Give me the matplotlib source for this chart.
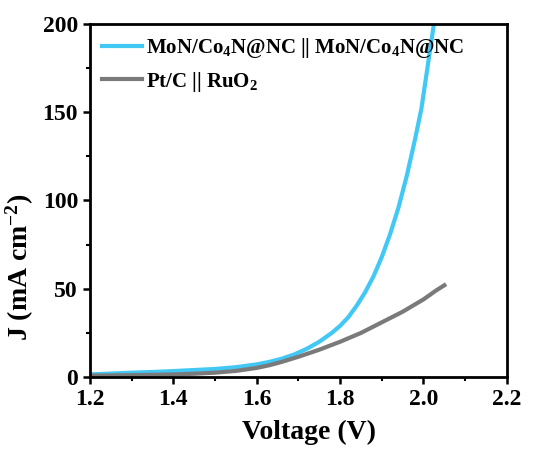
import matplotlib.pyplot as plt
from matplotlib.ticker import MultipleLocator

plt.rcParams['font.family'] = 'Liberation Serif'
plt.rcParams['font.weight'] = 'bold'
plt.rcParams['mathtext.fontset'] = 'custom'
plt.rcParams['mathtext.rm'] = 'Liberation Serif:bold'
plt.rcParams['mathtext.it'] = 'Liberation Serif:bold'
plt.rcParams['mathtext.bf'] = 'Liberation Serif:bold'

# MoN/Co4N@NC || MoN/Co4N@NC
v_mon = [1.20, 1.25, 1.30, 1.35, 1.40, 1.45, 1.50, 1.55, 1.60, 1.63, 1.66, 1.69,
         1.72, 1.75, 1.78, 1.80, 1.82, 1.84, 1.86, 1.88, 1.90, 1.92, 1.94, 1.96,
         1.98, 1.995, 2.01, 2.025]
j_mon = [1.5, 2.0, 2.5, 2.9, 3.4, 4.0, 4.6, 5.6, 7.2, 8.6, 10.4, 12.8,
         16.0, 20.0, 25.0, 29.0, 34.0, 40.5, 48.0, 57.0, 68.0, 81.0, 96.0, 114.0,
         135.0, 152.0, 176.0, 200.0]

# Pt/C || RuO2
v_pt = [1.20, 1.30, 1.40, 1.45, 1.50, 1.55, 1.60, 1.63, 1.66, 1.70, 1.75, 1.80,
        1.85, 1.90, 1.95, 2.00, 2.03, 2.05]
j_pt = [0.8, 1.1, 1.5, 1.9, 2.5, 3.5, 5.2, 6.7, 8.6, 11.5, 15.5, 20.0,
        25.0, 31.0, 37.0, 44.0, 49.0, 52.0]

fig = plt.figure(figsize=(5.51, 4.5), dpi=100)
ax = fig.add_axes([0.163, 0.162, 0.757, 0.785])

ax.plot(v_mon, j_mon, color='#42c8f4', lw=3, label=r'MoN/Co$_4$N@NC || MoN/Co$_4$N@NC')
ax.plot(v_pt, j_pt, color='#7a7a7a', lw=3, label=r'Pt/C || RuO$_2$')

ax.set_xlim(1.2, 2.2)
ax.set_ylim(0, 200)
ax.xaxis.set_major_locator(MultipleLocator(0.2))
ax.xaxis.set_minor_locator(MultipleLocator(0.1))
ax.yaxis.set_major_locator(MultipleLocator(50))
ax.yaxis.set_minor_locator(MultipleLocator(25))
ax.tick_params(which='major', direction='out', length=5, width=1.8, labelsize=17)
ax.tick_params(which='minor', direction='out', length=3, width=1.5)
ax.tick_params(top=False, right=False)
for s in ax.spines.values():
    s.set_linewidth(2)

ax.set_xlabel('Voltage (V)', fontsize=20, fontweight='bold')
ax.set_ylabel(r'J (mA cm$^{-2}$)', fontsize=20, fontweight='bold')
ax.xaxis.set_label_coords(0.525, -0.12)
ax.yaxis.set_label_coords(-0.13, 0.31)

ax.legend(loc='upper left', frameon=False, fontsize=15, handlelength=1.9,
          handletextpad=0.2, borderaxespad=0.2, labelspacing=0.45)

fig.savefig('out.png', dpi=100)
